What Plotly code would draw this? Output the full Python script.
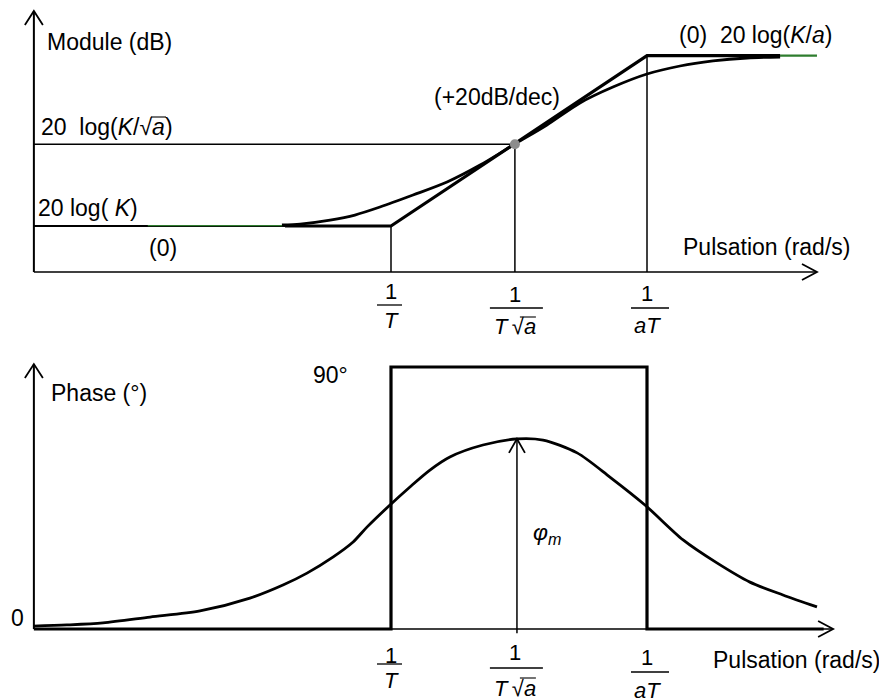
import plotly.graph_objects as go

# reference picture size and page offset (browser body margin)
REF_W, REF_H, OFF = 887, 699, 8
W, H = REF_W - OFF, REF_H - OFF

# ---------------- data (x = decades of pulsation, 0 at 1/T) ----------------
tick_u = [0.0, 0.484, 1.0]                     # 1/T, 1/(T*sqrt(a)), 1/(aT)
tick_num = ["1", "1", "1"]
tick_den = ["<i>T</i>", "<i>T</i>\u2009√<i>a</i>", "<i>aT</i>"]

# module (dB) : asymptotes
asym_u = [-0.414, 0.0, 1.0, 1.52]
asym_db = [0.0, 0.0, 20.0, 20.0]
low_u = [-1.395, -0.414]
low_db = [0.0, 0.0]
green_left_u = [-0.95, -0.42]
green_left_db = [0.05, 0.05]
green_right_u = [1.52, 1.664]
green_right_db = [20.0, 20.0]
mid_db = 9.6                                   # 20 log(K/sqrt(a))
axis_db = -5.4

mod_u = [-0.426, -0.355, -0.238, -0.141, -0.043, 0.086, 0.219, 0.348, 0.484,
         0.609, 0.738, 0.867, 1.0, 1.129, 1.258, 1.391, 1.520]
mod_db = [0.12, 0.23, 0.70, 1.29, 2.23, 3.64, 5.17, 7.16, 9.63,
          11.86, 14.45, 16.32, 17.85, 18.79, 19.38, 19.73, 19.85]

# phase (deg) : asymptotic square
ph_asym_u = [-1.395, 0.0, 0.0, 1.0, 1.0, 1.69]
ph_asym_deg = [0, 0, 90, 90, 0, 0]

ph_u = [-1.398, -1.266, -1.125, -0.941, -0.746, -0.551, -0.422, -0.328, -0.227,
        -0.148, -0.094, -0.004, 0.074, 0.152, 0.230, 0.359, 0.492, 0.594,
        0.727, 0.855, 0.992, 1.141, 1.273, 1.402, 1.531, 1.664]
ph_deg = [1.0, 1.4, 2.1, 4.1, 6.2, 10.6, 15.1, 19.2, 24.7,
          29.9, 35.0, 42.6, 48.8, 54.6, 59.1, 63.2, 65.3, 64.9,
          60.5, 52.2, 42.6, 30.6, 22.7, 16.1, 11.7, 7.6]
phi_m_u, phi_m_deg = 0.492, 65.3

x_left, x_right_top, x_right_bot = -1.395, 1.664, 1.727
y_top_db, y_top_deg = 25.25, 91.0

FONT = "Arial, Liberation Sans, sans-serif"
BLACK = "black"
GREEN = "#2e7d2e"

fig = go.Figure()


def line(x, y, width, color=BLACK, xa="x", ya="y", shape="linear"):
    fig.add_trace(go.Scatter(x=x, y=y, mode="lines", xaxis=xa, yaxis=ya,
                             line=dict(color=color, width=width, shape=shape,
                                       smoothing=0.8),
                             hoverinfo="skip", showlegend=False))


# ---------- top : module ----------
line([x_left, x_left], [axis_db, y_top_db], 2)                    # y axis
line([x_left, x_right_top], [axis_db, axis_db], 1.6)              # x axis
line([x_left, tick_u[1]], [mid_db, mid_db], 1.5)                  # 20log(K/sqrt a)
line([tick_u[0], tick_u[0]], [0, axis_db], 1.5)
line([tick_u[1], tick_u[1]], [mid_db, axis_db], 1.5)
line([tick_u[2], tick_u[2]], [20, axis_db], 1.5)
line(low_u, low_db, 2.2, BLACK)
line(green_left_u, green_left_db, 1.3, GREEN)
line(green_right_u, green_right_db, 2.2, GREEN)
line(asym_u, asym_db, 3.2)
line(mod_u, mod_db, 2.8, shape="spline")
fig.add_trace(go.Scatter(x=[tick_u[1]], y=[mid_db], mode="markers",
                         marker=dict(color="#8c8c8c", size=10),
                         hoverinfo="skip", showlegend=False))

# ---------- bottom : phase ----------
line([x_left, x_left], [0, y_top_deg], 2, xa="x2", ya="y2")
line([x_left, x_right_bot], [0, 0], 1.6, xa="x2", ya="y2")
line([phi_m_u, phi_m_u], [-1.5, phi_m_deg], 1.5, xa="x2", ya="y2")
line(ph_asym_u, ph_asym_deg, 3.2, xa="x2", ya="y2")
line(ph_u, ph_deg, 2.8, xa="x2", ya="y2", shape="spline")

# ---------- arrow heads (pixel-sized shapes) ----------
shapes = []


def chevron(xref, yref, xa, ya, path):
    shapes.append(dict(type="path", xref=xref, yref=yref,
                       xsizemode="pixel", ysizemode="pixel",
                       xanchor=xa, yanchor=ya, path=path,
                       line=dict(color=BLACK, width=1.8)))


UP = "M -9 -14 L 0 0 L 9 -14"
RIGHT = "M -15 8 L 0 0 L -15 -8"
chevron("x", "y", x_left, y_top_db, UP)
chevron("x", "y", x_right_top, axis_db, RIGHT)
chevron("x2", "y2", x_left, y_top_deg, UP)
chevron("x2", "y2", x_right_bot, 0, RIGHT)
chevron("x2", "y2", phi_m_u, phi_m_deg, "M -8 -14 L 0 0 L 8 -14")

# ---------- annotations ----------
ann = []


def PX(px):
    return (px - OFF) / W


def PY(py):
    return 1 - (py - OFF) / H


def text(px, py, s, size=23, anchor="left"):
    ann.append(dict(x=PX(px), y=PY(py), xref="paper", yref="paper", text=s,
                    showarrow=False, xanchor=anchor, yanchor="middle",
                    font=dict(family=FONT, size=size, color=BLACK)))


text(45, 42, "Module (dB)")
text(39, 127, "20\u00a0\u00a0log(<i>K</i>/√<i>a</i>)")
text(36, 208, "20 log(\u00a0<i>K</i>)")
text(163, 248, "(0)", anchor="center")
text(497, 97, "(+20dB/dec)", anchor="center")
text(677, 35, "(0)\u00a0\u00a020 log(<i>K</i>/<i>a</i>)")
text(681, 247, "Pulsation (rad/s)")
text(330, 375, "90°", anchor="center")
text(49, 393, "Phase (°)")
text(17, 618, "0", anchor="center")
text(531, 533, "<i>φ<sub>m</sub></i>")
text(711, 660, "Pulsation (rad/s)")

# overline of the square root in the 20 log(K/sqrt a) label
shapes.append(dict(type="line", xref="paper", yref="paper",
                   x0=PX(151), x1=PX(166), y0=PY(117), y1=PY(117),
                   line=dict(color=BLACK, width=1.1)))

# fraction tick labels (top and bottom)
frac_top = dict(num_y=[291, 294, 293], bar_y=[305, 308, 308], den_y=[320, 327, 325])
frac_bot = dict(num_y=[655, 652, 657], bar_y=[664, 668, 672], den_y=[680, 688, 690])
bar_half = [(-14, 11), (-25, 28), (-16, 22)]

for xref, fr in (("x", frac_top), ("x2", frac_bot)):
    for i, u in enumerate(tick_u):
        for s, py in ((tick_num[i], fr["num_y"][i]), (tick_den[i], fr["den_y"][i])):
            ann.append(dict(x=u, y=PY(py), xref=xref, yref="paper", text=s,
                            showarrow=False, xanchor="center", yanchor="middle",
                            font=dict(family=FONT, size=22, color=BLACK)))
        shapes.append(dict(type="line", xref=xref, yref="paper",
                           xsizemode="pixel", xanchor=u,
                           x0=bar_half[i][0], x1=bar_half[i][1],
                           y0=PY(fr["bar_y"][i]), y1=PY(fr["bar_y"][i]),
                           line=dict(color=BLACK, width=1.3)))
        if i == 1:  # overline of the square root
            oy = PY(fr["den_y"][i] - 10)
            shapes.append(dict(type="line", xref=xref, yref="paper",
                               xsizemode="pixel", xanchor=u, x0=5, x1=21,
                               y0=oy, y1=oy, line=dict(color=BLACK, width=1.1)))

XR = [(OFF - 391) / 256, (REF_W - 391) / 256]
fig.update_layout(
    width=W, height=H, margin=dict(l=0, r=0, t=0, b=0),
    paper_bgcolor="white", plot_bgcolor="white", showlegend=False,
    xaxis=dict(domain=[0, 1], range=XR, visible=False, fixedrange=True),
    yaxis=dict(domain=[1 - 292 / H, 1], range=[-(300 - 226) / 8.515, (226 - OFF) / 8.515],
               visible=False, fixedrange=True),
    xaxis2=dict(domain=[0, 1], range=XR, visible=False, fixedrange=True),
    yaxis2=dict(domain=[0, 359 / H], range=[-(699 - 629) / 2.911, (629 - 340) / 2.911],
                visible=False, fixedrange=True),
    shapes=shapes, annotations=ann,
)

fig.write_html("out.html", config=dict(displayModeBar=False))
